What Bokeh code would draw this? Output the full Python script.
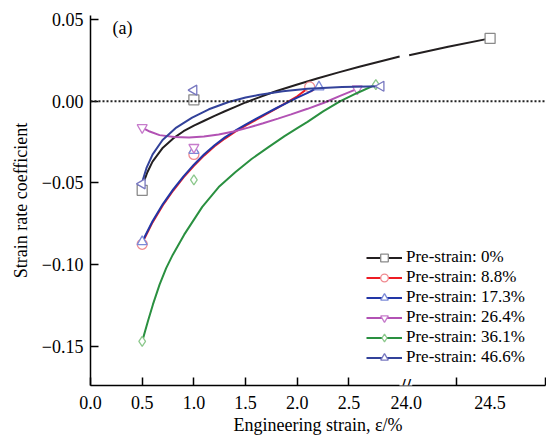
import math
from bokeh.plotting import figure
from bokeh.models import FixedTicker, Span, Label, Legend, LegendItem, Range1d
from bokeh.embed import file_html
from bokeh.resources import INLINE

# ---------------- data ----------------
labels = ["Pre-strain: 0%", "Pre-strain: 8.8%", "Pre-strain: 17.3%",
          "Pre-strain: 26.4%", "Pre-strain: 36.1%", "Pre-strain: 46.6%"]

# measured points (engineering strain %, strain rate coefficient)
pt_x_00 = [0.5, 1.0, 24.5]
pt_y_00 = [-0.0546, 0.0008, 0.0384]
pt_x_88 = [0.5, 1.0, 2.12]
pt_y_88 = [-0.0876, -0.0326, 0.0087]
pt_x_173 = [0.5, 1.0, 2.21]
pt_y_173 = [-0.0860, -0.0302, 0.0087]
pt_x_264 = [0.5, 1.0, 2.58]
pt_y_264 = [-0.0162, -0.0283, 0.0075]
pt_x_361 = [0.5, 1.0, 2.76]
pt_y_361 = [-0.1470, -0.0482, 0.0101]
pt_x_466 = [0.5, 1.0, 2.81]
pt_y_466 = [-0.0506, 0.0067, 0.0091]

# fitted curves
fit_x_00 = [0.5, 0.55, 0.6, 0.7, 0.8, 0.9, 1.0, 1.1, 1.2, 1.3, 1.4, 1.5, 1.65, 1.8,
            2.0, 2.2, 2.4, 2.6, 2.8, 2.99, float("nan"), 24.018, 24.25, 24.5]
fit_y_00 = [-0.0520, -0.0435, -0.0370, -0.0285, -0.0228, -0.0184, -0.0150, -0.0120,
            -0.0090, -0.0062, -0.0035, -0.0008, 0.0028, 0.0062, 0.0102, 0.0140, 0.0176,
            0.0210, 0.0243, 0.0273, float("nan"), 0.0281, 0.0333, 0.0384]
fit_x_88 = [0.5, 0.6, 0.7, 0.8, 0.9, 1.0, 1.1, 1.2, 1.3, 1.4, 1.5, 1.6, 1.7, 1.8,
            1.9, 2.0, 2.12]
fit_y_88 = [-0.0868, -0.0742, -0.0637, -0.0547, -0.0467, -0.0396, -0.0332, -0.0276,
            -0.0229, -0.0187, -0.0150, -0.0115, -0.0080, -0.0044, -0.0008, 0.0030, 0.0087]
fit_x_173 = [0.5, 0.6, 0.7, 0.8, 0.9, 1.0, 1.1, 1.2, 1.3, 1.4, 1.5, 1.6, 1.7, 1.8,
             1.9, 2.0, 2.1, 2.21]
fit_y_173 = [-0.0860, -0.0735, -0.0630, -0.0540, -0.0460, -0.0389, -0.0325, -0.0270,
             -0.0222, -0.0181, -0.0144, -0.0109, -0.0075, -0.0042, -0.0010, 0.0021,
             0.0051, 0.0087]
fit_x_264 = [0.5, 0.573, 0.668, 0.811, 0.954, 1.097, 1.24, 1.384, 1.527, 1.67, 1.813,
             1.94, 2.099, 2.259, 2.414, 2.58]
fit_y_264 = [-0.0162, -0.0186, -0.0208, -0.0220, -0.0223, -0.0217, -0.0204, -0.0186,
             -0.0162, -0.0135, -0.0107, -0.0081, -0.0047, -0.0010, 0.0032, 0.0075]
fit_x_361 = [0.5, 0.556, 0.604, 0.668, 0.732, 0.795, 0.906, 1.081, 1.24, 1.4, 1.558,
             1.718, 1.877, 2.004, 2.099, 2.25, 2.417, 2.59, 2.76]
fit_y_361 = [-0.1470, -0.1345, -0.1244, -0.1123, -0.1022, -0.0941, -0.0817, -0.0647,
             -0.0526, -0.0435, -0.0354, -0.0283, -0.0214, -0.0164, -0.0127, -0.0063,
             0.0, 0.0053, 0.0101]
fit_x_466 = [0.5, 0.544, 0.601, 0.697, 0.83, 0.983, 1.145, 1.336, 1.5, 1.622, 1.861,
             2.099, 2.433, 2.81]
fit_y_466 = [-0.0495, -0.0405, -0.0326, -0.0238, -0.0162, -0.0101, -0.0050, -0.0005,
             0.0022, 0.0037, 0.0061, 0.0076, 0.0086, 0.0091]

# tick labels
x_tick_low = [0.0, 0.5, 1.0, 1.5, 2.0, 2.5]
x_tick_high = [24.0, 24.5]
x_tick_high_marks = [24.3, 24.83]   # where the tick marks of the broken part sit
y_ticks = [-0.15, -0.10, -0.05, 0.0, 0.05]
y_tick_labels = ["\u22120.15", "\u22120.10", "\u22120.05", "0.00", "0.05"]

# ---------------- broken x axis ----------------
BREAK_POS = 3.0          # axis position of the break
HIGH_START = 3.053       # axis position of 24.0
HIGH_SCALE = 1.624       # axis units per % strain after the break


def ax(v):
    if v != v:
        return v
    if v <= BREAK_POS:
        return v
    return HIGH_START + (v - 24.0) * HIGH_SCALE


FONT = "Liberation Serif"
Y0, Y1 = -0.174, 0.0524

p = figure(frame_width=455, frame_height=370, output_backend="svg", toolbar_location=None,
           x_range=Range1d(0, ax(24.83)), y_range=Range1d(Y0, Y1),
           min_border_left=90, min_border_top=15, min_border_right=1, min_border_bottom=50)
p.outline_line_color = None
p.xgrid.visible = False
p.ygrid.visible = False
p.background_fill_color = "white"
p.border_fill_color = "white"

# x axis
xa = p.xaxis[0]
maj = [ax(v) for v in x_tick_low + x_tick_high]
minr = [ax(v) for v in x_tick_low + x_tick_high_marks]
xa.ticker = FixedTicker(ticks=maj, minor_ticks=minr)
xa.major_label_overrides = {ax(v): f"{v:.1f}" for v in x_tick_low + x_tick_high}
xa.major_tick_in = 0
xa.major_tick_out = 0
xa.minor_tick_in = 8
xa.minor_tick_out = 0
xa.minor_tick_line_width = 1.5
xa.minor_tick_line_color = "black"
xa.axis_line_width = 1.5
xa.axis_line_color = "black"
xa.axis_label = "Engineering strain, \u03b5/%"
xa.major_label_standoff = 10
xa.axis_label_standoff = 3

# y axis
ya = p.yaxis[0]
ya.ticker = FixedTicker(ticks=y_ticks, minor_ticks=[])
ya.major_label_overrides = {t: s for t, s in zip(y_ticks, y_tick_labels)}
ya.major_tick_in = 8
ya.major_tick_out = 0
ya.major_tick_line_width = 1.5
ya.axis_line_width = 1.5
ya.axis_label = "Strain rate coefficient"
ya.major_label_standoff = 7
ya.axis_label_standoff = 8

for a in (xa, ya):
    a.major_label_text_font = FONT
    a.major_label_text_font_size = "18px"
    a.major_label_text_color = "black"
    a.axis_label_text_font = FONT
    a.axis_label_text_font_size = "18px"
    a.axis_label_text_font_style = "normal"
    a.axis_label_text_color = "black"

# zero line
p.add_layout(Span(location=0, dimension="width", line_color="#222222",
                  line_dash="2 2", line_width=2))

series = [
    (pt_x_00, pt_y_00, fit_x_00, fit_y_00, "#231f20", "#8a8a8a", "square", 0.0),
    (pt_x_88, pt_y_88, fit_x_88, fit_y_88, "#ed1c24", "#f08a90", "circle", 0.0),
    (pt_x_173, pt_y_173, fit_x_173, fit_y_173, "#2236a6", "#7c8ad8", "triangle", 0.0),
    (pt_x_264, pt_y_264, fit_x_264, fit_y_264, "#b252b4", "#c77ccc", "inverted_triangle", 0.0),
    (pt_x_361, pt_y_361, fit_x_361, fit_y_361, "#2a9040", "#8cc88c", "diamond", 0.0),
    (pt_x_466, pt_y_466, fit_x_466, fit_y_466, "#33429a", "#7878c0", "triangle", math.pi / 2),
]

items = []
for lab, (px, py, fx, fy, lc, mc, mk, ang) in zip(labels, series):
    lr = p.line([ax(v) for v in fx], fy, line_color=lc, line_width=2.0)
    sr = p.scatter([ax(v) for v in px], py, marker=mk, size=10, angle=ang,
                   fill_color="white", line_color=mc, line_width=1.3)
    items.append(LegendItem(label=lab, renderers=[lr, sr]))

leg = Legend(items=items, location=(276, 18), orientation="vertical",
             label_text_font=FONT, label_text_font_size="17px", label_text_color="black",
             label_height=19, glyph_height=19, glyph_width=36, label_standoff=4,
             spacing=0, padding=0, margin=0, border_line_color=None,
             background_fill_alpha=0)
p.add_layout(leg)

# break mark on the x axis
p.add_layout(Label(x=BREAK_POS + 0.05, y=Y0, text="//", text_align="center",
                   text_baseline="middle", text_font="DejaVu Sans", text_font_size="16px",
                   text_color="black", background_fill_color="white",
                   border_line_color=None, padding=1, level="overlay"))

# panel tag
p.add_layout(Label(x=22, y=348, x_units="screen", y_units="screen", text="(a)",
                   text_font=FONT, text_font_size="18px", text_color="black"))

open("out.html", "w").write(file_html(p, INLINE))
